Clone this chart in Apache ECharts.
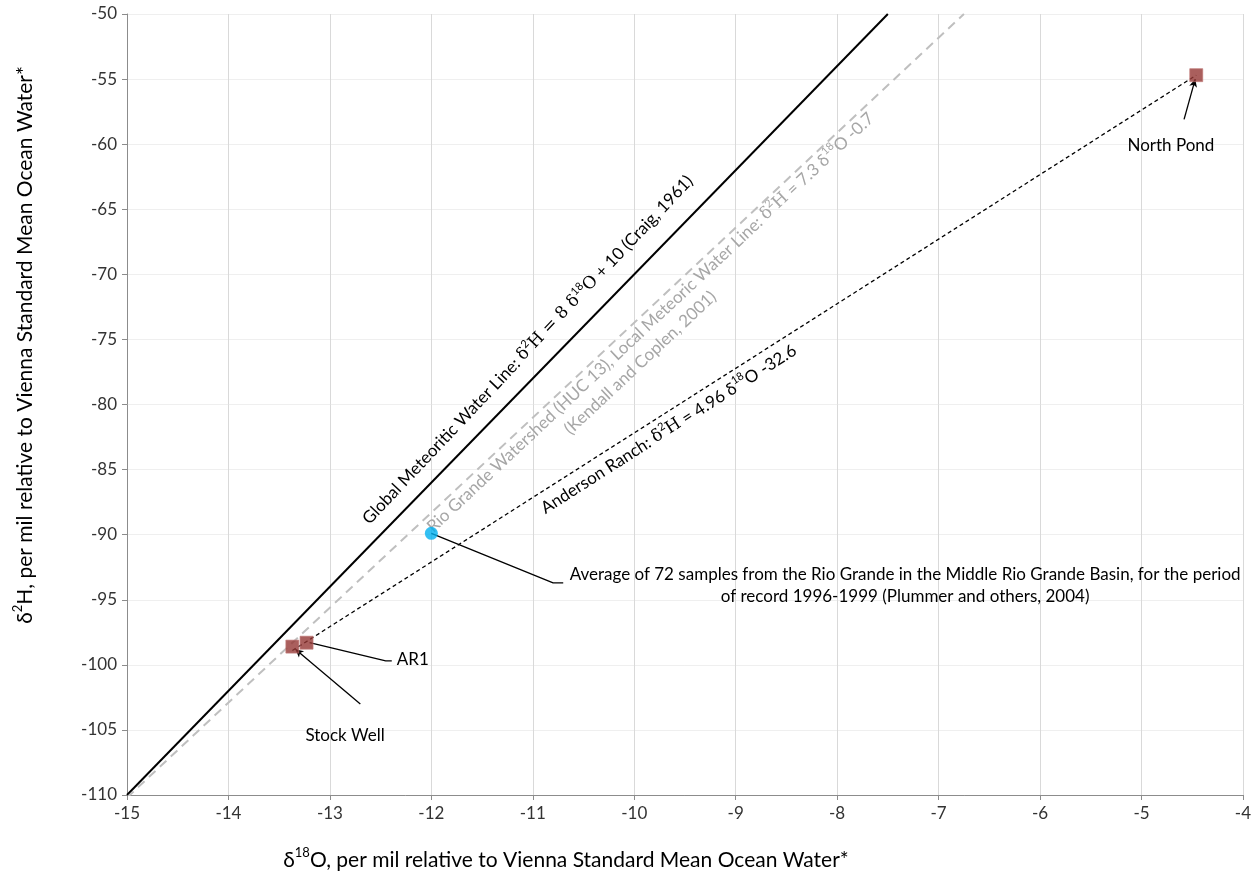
<!DOCTYPE html>
<html>
<head>
<meta charset="utf-8">
<script src="https://cdn.jsdelivr.net/npm/echarts@6/dist/echarts.min.js"></script>
<style>
html, body { margin: 0; padding: 0; background: #fff; }
#chart { width: 1254px; height: 880px; }
</style>
</head>
<body>
<div id="chart"></div>
<script>
// 样本点 (δ18O, δ2H)
const sampleNames = ['North Pond', 'AR1', 'Stock Well']
const samplePoints = [[-4.46, -54.7], [-13.23, -98.3], [-13.37, -98.6]]
const riverAverage = [[-12.0, -89.9]]

// 三条水线的端点
const gmwlEnds = [[-15, -110], [-7.5, -50]]
const lmwlEnds = [[-15, -110.2], [-6.75, -50]]
const andersonEnds = [[-13.37, -98.9], [-4.46, -54.7]]

// 标注引线
const leaderNorthPond = [[-4.58, -58.1], [-4.47, -55.0]]
const leaderStockWell = [[-12.70, -103.0], [-13.34, -98.8]]
const leaderAR1 = [[-12.39, -99.7], [-12.45, -99.7], [-13.2, -98.3]]
const leaderAverage = [[-10.70, -93.7], [-10.80, -93.7], [-12.0, -89.9]]

// 坐标轴
const xMin = -15, xMax = -4, xStep = 1
const yMin = -110, yMax = -50, yStep = 5

// 富文本：{s|..} 上标，{m|..} 公式字体
const labelGMWL = 'Global Meteoritic Water Line: {m|δ}{s|2}{m|H = 8 δ}{s|18}{m|O} + 10 (Craig, 1961)'
const labelLMWL = 'Rio Grande Watershed (HUC 13), Local Meteoric Water Line: {m|δ}{s|2}{m|H} = 7.3 δ{s|18}O -0.7'
const labelLMWLRef = '(Kendall and Coplen, 2001)'
const labelAnderson = 'Anderson Ranch: {m|δ}{s|2}{m|H} = 4.96 δ{s|18}O -32.6'
const labelAverage = 'Average of 72 samples from the Rio Grande in the Middle Rio Grande Basin, for the period\nof record 1996-1999 (Plummer and others, 2004)'
const titleY = 'δ{s|2}H, per mil relative to Vienna Standard Mean Ocean Water*'
const titleX = 'δ{s|18}O, per mil relative to Vienna Standard Mean Ocean Water*'

const FONT = 'Lato, "Noto Sans", sans-serif'
const MATH = '"DejaVu Serif", "Liberation Serif", serif'

const chart = echarts.init(document.getElementById('chart'))

const option = {
  animation: false,
  grid: { left: 127, right: 7, top: 14, bottom: 85 },
  xAxis: {
    type: 'value', min: xMin, max: xMax, interval: xStep,
    axisLine: { onZero: false, lineStyle: { color: '#8c8c8c', width: 1 } },
    axisTick: { show: true, length: 5, lineStyle: { color: '#8c8c8c' } },
    axisLabel: { color: '#333', fontSize: 17, fontFamily: FONT, margin: 10 },
    splitLine: { show: true, lineStyle: { color: '#d9d9d9', width: 1 } }
  },
  yAxis: {
    type: 'value', min: yMin, max: yMax, interval: yStep,
    axisLine: { show: true, onZero: false, lineStyle: { color: '#8c8c8c', width: 1 } },
    axisTick: { show: true, length: 5, lineStyle: { color: '#8c8c8c' } },
    axisLabel: { color: '#333', fontSize: 17, fontFamily: FONT, margin: 10 },
    splitLine: { show: true, lineStyle: { color: '#efefef', width: 1 } }
  },
  series: [
    {
      type: 'line', data: gmwlEnds, symbol: 'none', silent: true,
      lineStyle: { color: '#000', width: 2 }
    },
    {
      type: 'line', data: lmwlEnds, symbol: 'none', silent: true,
      lineStyle: { color: '#bfbfbf', width: 2, type: [9, 6] }
    },
    {
      type: 'line', data: andersonEnds, symbol: 'none', silent: true,
      lineStyle: { color: '#000', width: 1.3, type: [4, 3] }
    },
    {
      type: 'line', data: leaderAR1, symbol: 'none', silent: true,
      lineStyle: { color: '#000', width: 1.3 }
    },
    {
      type: 'line', data: leaderAverage, symbol: 'none', silent: true,
      lineStyle: { color: '#000', width: 1.3 }
    },
    {
      type: 'line', data: [], symbol: 'none', silent: true,
      markLine: {
        silent: true, animation: false,
        symbol: ['none', 'arrow'], symbolSize: [6, 8],
        label: { show: false },
        lineStyle: { color: '#000', width: 1.3, type: 'solid' },
        data: [
          [{ coord: leaderNorthPond[0] }, { coord: leaderNorthPond[1] }],
          [{ coord: leaderStockWell[0] }, { coord: leaderStockWell[1] }]
        ]
      }
    },
    {
      type: 'scatter', name: 'samples', symbol: 'rect', symbolSize: 13,
      data: samplePoints.map((p, i) => ({ name: sampleNames[i], value: p })),
      itemStyle: { color: '#953735', borderColor: '#c27b79', borderWidth: 0.8 },
      z: 5
    },
    {
      type: 'scatter', name: 'Rio Grande', symbol: 'circle', symbolSize: 13,
      data: riverAverage,
      itemStyle: { color: '#00b0f0' },
      z: 5
    }
  ]
}
chart.setOption(option)

// 文字标注，位置用数据坐标换算
const px = p => chart.convertToPixel({ gridIndex: 0 }, p)
const angleOf = ends => {
  const a = px(ends[0]), b = px(ends[1])
  return Math.atan2(a[1] - b[1], b[0] - a[0])
}
const richFor = (size, color) => ({
  s: { fontSize: Math.round(size * 0.62), lineHeight: Math.round(size * 0.75), verticalAlign: 'top', fill: color, fontFamily: FONT },
  m: { fontSize: size, fontFamily: MATH, fill: color }
})
const textAt = (text, x, y, opts) => {
  const size = opts.size || 17
  const color = opts.color || '#000'
  return {
    type: 'text', x: x, y: y, rotation: opts.rotation || 0, silent: true,
    style: {
      text: text, align: opts.align || 'center', verticalAlign: 'middle',
      fontSize: size, fontFamily: FONT, fill: color,
      lineHeight: opts.lineHeight || Math.round(size * 1.35),
      rich: richFor(size, color)
    }
  }
}
const dataText = (text, at, opts) => {
  const p = px(at)
  return textAt(text, p[0], p[1], opts)
}

chart.setOption({
  graphic: [
    dataText(labelGMWL, [-11.05, -75.8], { rotation: angleOf(gmwlEnds) + 0.015 }),
    dataText(labelLMWL, [-9.84, -73.7], { rotation: angleOf(lmwlEnds), color: '#a6a6a6' }),
    dataText(labelLMWLRef, [-9.94, -76.8], { rotation: angleOf(lmwlEnds), color: '#a6a6a6' }),
    dataText(labelAnderson, [-9.66, -81.9], { rotation: angleOf(andersonEnds) }),
    dataText('North Pond', [-4.71, -60.1], {}),
    dataText('AR1', [-12.34, -99.6], { align: 'left' }),
    dataText('Stock Well', [-12.85, -105.45], {}),
    dataText(labelAverage, [-7.33, -93.9], { lineHeight: 22 }),
    textAt(titleY, 25, 345, { rotation: Math.PI / 2, size: 21 }),
    textAt(titleX, 566, 860, { size: 21 })
  ]
})

window.addEventListener('resize', function () {
  chart.resize()
})
</script>
</body>
</html>
